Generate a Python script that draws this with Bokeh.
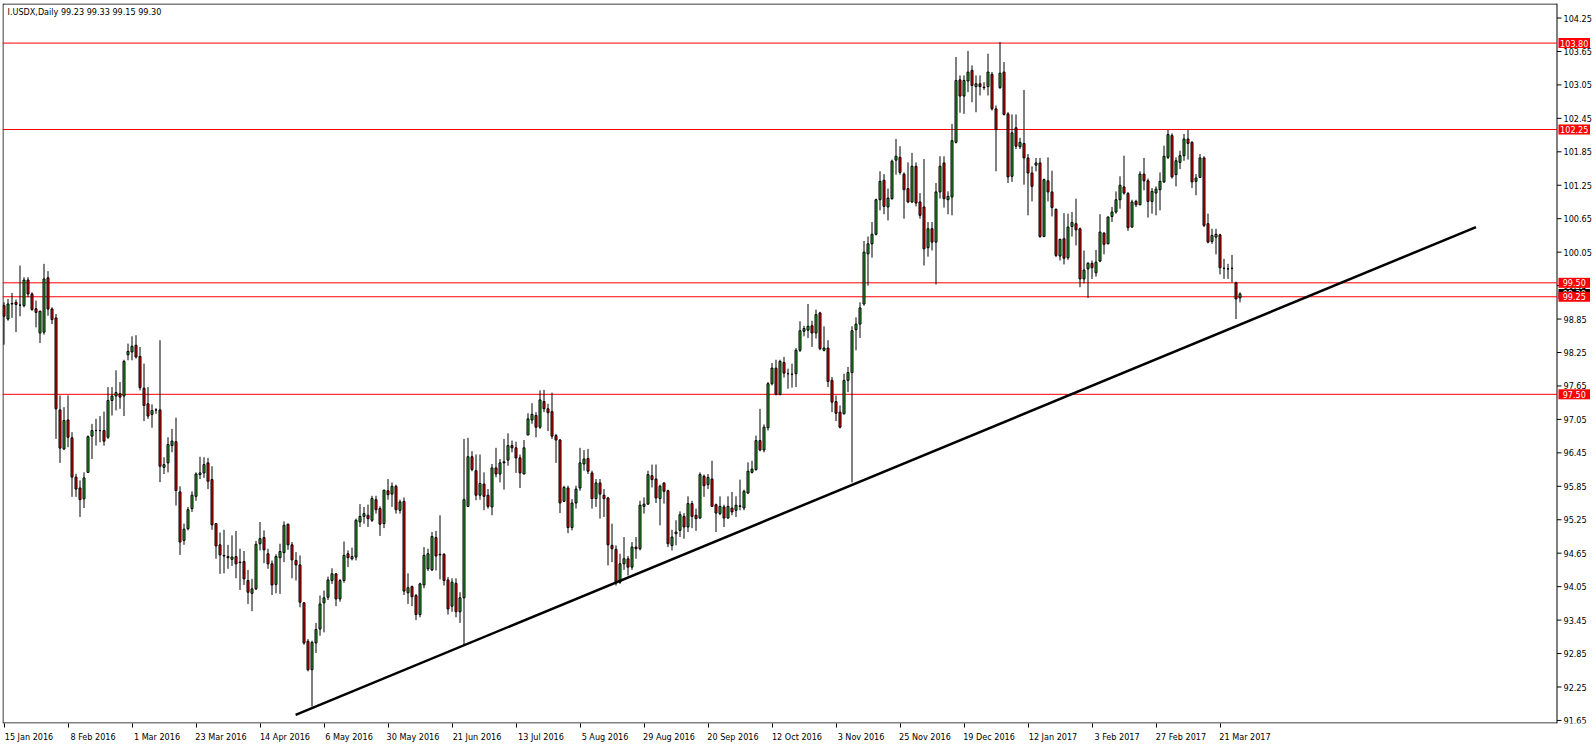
from bokeh.plotting import figure
from bokeh.models import ColumnDataSource, FixedTicker, Range1d
from bokeh.core.properties import value
from bokeh.embed import file_html
from bokeh.resources import INLINE

# ---------------- data ----------------
title_text = "I.USDX,Daily  99.23 99.33 99.15 99.30"

opens = [
    99.09, 98.85, 99.12, 99.15, 99.10, 99.09, 99.55, 99.30, 99.035, 98.60,
    98.615, 99.59, 99.03, 98.87, 97.22, 96.52, 97.04, 96.72, 96.015, 95.82,
    95.625, 96.10, 96.75, 96.85, 96.85, 96.85, 96.73, 97.39, 97.47, 97.51,
    97.47, 98.21, 98.26, 98.38, 98.18, 97.61, 97.33, 97.14, 97.22, 97.22,
    96.19, 96.27, 96.58, 96.65, 95.75, 94.88, 95.09, 95.45, 95.67, 96.06,
    96.09, 96.27, 95.97, 95.18, 94.80, 94.60, 94.59, 94.54, 94.59, 94.49,
    94.50, 94.16, 93.93, 94.01, 94.82, 94.93, 94.64, 94.46, 94.09, 94.57,
    94.66, 95.17, 94.80, 94.52, 94.44, 93.76, 93.07, 92.56, 93.04, 93.29,
    93.76, 93.86, 94.16, 94.28, 93.83, 94.16, 94.64, 94.55, 94.58, 95.21,
    95.31, 95.33, 95.24, 95.61, 95.45, 95.18, 95.77, 95.71, 95.85, 95.42,
    95.58, 93.94, 94.05, 93.89, 93.55, 94.08, 94.37, 94.35, 94.93, 94.63,
    94.63, 94.17, 93.70, 94.11, 93.60, 93.85, 95.49, 96.38, 96.13, 95.69,
    95.89, 95.69, 95.48, 96.18, 96.07, 96.27, 96.32, 96.58, 96.54, 96.36,
    96.07, 96.77, 97.04, 97.12, 96.91, 97.37, 97.24, 97.19, 96.76, 96.68,
    95.58, 95.82, 95.11, 95.55, 95.82, 96.25, 96.35, 96.09, 95.63, 95.91,
    95.69, 95.64, 94.79, 94.72, 94.13, 94.46, 94.55, 94.40, 94.76, 94.73,
    95.49, 95.53, 96.04, 95.98, 95.63, 95.91, 95.77, 94.79, 95.00, 95.06,
    95.31, 95.12, 95.54, 95.33, 95.28, 96.03, 95.88, 95.98, 95.52, 95.36,
    95.48, 95.28, 95.46, 95.42, 95.49, 95.46, 95.73, 96.10, 96.15, 96.67,
    96.50, 96.90, 97.69, 97.97, 97.50, 98.07, 97.87, 97.86, 97.87, 98.29,
    98.63, 98.65, 98.73, 98.60, 98.96, 98.29, 98.33, 97.75, 97.37, 97.18,
    97.15, 97.75, 97.89, 98.66, 98.76, 99.12, 100.02, 100.20, 100.37, 100.99,
    101.34, 100.86, 101.01, 101.70, 101.75, 101.45, 101.19, 100.95, 101.59, 100.95,
    100.86, 100.13, 100.47, 100.23, 101.13, 101.65, 100.99, 101.04, 102.02, 103.14,
    102.85, 103.12, 103.31, 103.02, 103.07, 103.00, 103.02, 103.24, 102.62, 103.00,
    103.28, 102.53, 101.41, 102.28, 101.94, 102.00, 101.74, 101.47, 101.61, 101.65,
    100.33, 101.33, 101.13, 100.82, 99.98, 100.29, 99.95, 100.51, 100.56, 100.47,
    99.57, 99.75, 99.85, 99.68, 99.89, 100.39, 100.20, 100.69, 100.77, 100.99,
    101.22, 101.10, 100.50, 100.96, 100.90, 101.45, 101.33, 100.96, 101.11, 101.17,
    101.31, 101.75, 102.14, 101.44, 101.66, 101.78, 102.08, 102.02, 101.32, 101.39,
    101.74, 100.56, 100.24, 100.32, 100.36, 99.76, 99.75, 99.76, 99.50, 99.23,
]

highs = [
    99.15, 99.21, 99.32, 99.20, 99.81, 99.60, 99.60, 99.33, 99.18, 99.00,
    99.84, 99.71, 99.06, 98.94, 97.48, 97.27, 97.48, 96.82, 96.075, 95.955,
    96.10, 96.76, 96.97, 97.06, 97.11, 97.19, 97.63, 97.63, 97.93, 97.72,
    98.12, 98.41, 98.54, 98.56, 98.35, 98.05, 97.63, 97.32, 97.25, 98.47,
    96.37, 96.73, 96.88, 97.08, 95.85, 95.18, 95.48, 95.76, 96.10, 96.38,
    96.37, 96.36, 96.21, 95.19, 95.02, 95.07, 94.80, 94.97, 95.05, 94.73,
    94.69, 94.35, 94.19, 94.87, 95.21, 95.06, 94.73, 94.52, 94.63, 94.82,
    95.22, 95.18, 94.85, 94.67, 94.61, 93.77, 93.11, 93.08, 93.40, 93.89,
    93.98, 94.23, 94.38, 94.29, 94.19, 94.86, 94.70, 94.75, 95.27, 95.53,
    95.48, 95.52, 95.68, 95.68, 95.49, 95.79, 95.98, 95.92, 95.88, 95.61,
    95.65, 94.29, 94.07, 93.92, 94.12, 94.76, 94.73, 95.03, 95.05, 95.33,
    94.65, 94.22, 94.20, 94.20, 93.95, 96.70, 96.72, 96.48, 96.42, 96.42,
    96.10, 95.80, 96.25, 96.54, 96.34, 96.70, 96.80, 96.67, 96.65, 96.42,
    96.68, 97.16, 97.34, 97.18, 97.57, 97.58, 97.33, 97.53, 96.79, 96.70,
    95.86, 95.86, 95.62, 95.86, 96.54, 96.50, 96.52, 96.13, 95.98, 95.98,
    95.80, 95.66, 95.18, 94.79, 94.64, 94.94, 94.60, 94.85, 94.94, 95.59,
    95.65, 96.13, 96.24, 96.24, 95.88, 95.92, 95.79, 95.07, 95.24, 95.40,
    95.37, 95.67, 95.59, 95.45, 96.10, 96.06, 96.07, 96.31, 95.54, 95.67,
    95.52, 95.67, 95.75, 95.67, 95.97, 95.79, 96.28, 96.31, 96.76, 97.24,
    96.96, 97.72, 98.06, 98.12, 98.12, 98.17, 97.96, 98.05, 98.33, 98.81,
    98.73, 99.12, 98.82, 99.02, 98.98, 98.72, 98.47, 97.81, 97.48, 97.30,
    97.87, 97.99, 98.72, 98.88, 99.15, 100.25, 100.33, 100.59, 101.01, 101.50,
    101.45, 101.19, 101.71, 102.08, 101.95, 101.48, 101.66, 101.83, 101.66, 101.11,
    101.72, 100.59, 100.59, 101.29, 101.77, 101.77, 101.14, 102.35, 103.55, 103.22,
    103.22, 103.66, 103.40, 103.22, 103.22, 103.10, 103.61, 103.28, 102.68, 103.82,
    103.46, 102.56, 102.52, 102.52, 102.10, 102.96, 101.81, 101.59, 101.74, 101.74,
    101.37, 101.75, 101.51, 100.83, 100.29, 100.75, 100.74, 100.77, 101.01, 100.49,
    100.08, 99.87, 99.90, 100.09, 100.73, 100.41, 100.69, 100.86, 101.14, 101.41,
    101.78, 101.13, 100.99, 100.99, 101.50, 101.74, 101.37, 101.20, 101.23, 101.48,
    101.96, 102.24, 102.18, 101.75, 101.87, 102.17, 102.24, 102.04, 101.45, 101.81,
    101.77, 100.74, 100.47, 100.47, 100.38, 99.93, 99.84, 100.00, 99.52, 99.33,
]

lows = [
    98.39, 98.82, 98.87, 98.615, 98.90, 99.06, 99.24, 99.00, 98.70, 98.42,
    98.57, 98.91, 98.76, 96.70, 96.27, 96.50, 96.55, 95.66, 95.66, 95.30,
    95.46, 96.09, 96.34, 96.58, 96.64, 96.58, 96.70, 97.12, 97.21, 97.24,
    97.11, 98.11, 98.11, 98.14, 97.57, 97.02, 97.06, 96.90, 97.15, 95.925,
    96.07, 96.10, 96.46, 95.505, 94.62, 94.80, 95.06, 95.39, 95.59, 95.98,
    96.00, 95.80, 95.07, 94.55, 94.28, 94.29, 94.37, 94.42, 94.20, 93.99,
    94.08, 93.74, 93.61, 93.99, 94.70, 94.47, 94.37, 93.90, 93.93, 93.92,
    94.49, 94.71, 94.20, 94.16, 93.68, 93.01, 92.53, 91.90, 92.86, 93.17,
    93.23, 93.81, 94.10, 93.70, 93.78, 94.12, 94.40, 94.52, 94.52, 95.12,
    95.18, 95.12, 95.21, 95.36, 94.96, 95.10, 95.61, 95.48, 95.36, 95.36,
    93.90, 93.74, 93.70, 93.45, 93.50, 94.02, 94.33, 94.33, 94.34, 94.18,
    94.07, 93.55, 93.60, 93.50, 93.40, 93.00, 95.48, 96.12, 95.60, 95.61,
    95.42, 95.45, 95.33, 96.01, 95.92, 95.79, 96.22, 96.46, 96.09, 95.82,
    96.07, 96.77, 96.97, 96.73, 96.88, 97.18, 96.84, 96.70, 96.27, 95.37,
    95.57, 95.01, 95.06, 95.45, 95.77, 96.13, 96.07, 95.45, 95.48, 95.27,
    95.30, 94.43, 94.49, 94.07, 94.10, 94.35, 94.25, 94.35, 94.55, 94.70,
    95.36, 95.52, 95.83, 95.55, 95.15, 95.54, 94.76, 94.70, 94.79, 94.94,
    94.91, 95.03, 95.10, 95.05, 95.27, 95.66, 95.80, 95.48, 95.03, 95.33,
    95.12, 95.27, 95.33, 95.30, 95.42, 95.42, 95.71, 96.08, 96.13, 96.48,
    96.46, 96.85, 97.66, 97.48, 97.48, 97.80, 97.60, 97.62, 97.63, 98.26,
    98.54, 98.51, 98.35, 98.50, 98.29, 98.27, 97.63, 97.18, 97.02, 96.89,
    97.14, 97.54, 95.92, 98.29, 98.51, 99.09, 99.45, 99.95, 100.35, 100.80,
    100.73, 100.62, 100.99, 101.44, 101.44, 100.65, 100.93, 100.93, 100.87, 100.65,
    99.81, 99.97, 100.08, 99.47, 101.01, 100.85, 100.73, 100.71, 102.00, 102.55,
    102.53, 102.92, 102.74, 102.56, 102.86, 102.96, 102.86, 102.59, 101.50, 102.98,
    102.50, 101.29, 101.31, 101.90, 101.90, 101.26, 100.71, 100.96, 101.50, 100.31,
    100.32, 100.96, 100.69, 99.96, 99.90, 99.83, 99.91, 100.33, 100.17, 99.42,
    99.49, 99.23, 99.57, 99.61, 99.87, 100.01, 100.19, 100.59, 100.74, 100.83,
    101.08, 100.43, 100.49, 100.86, 100.89, 101.16, 100.67, 100.74, 100.71, 100.80,
    101.29, 101.72, 101.37, 101.23, 101.54, 101.69, 101.71, 101.20, 101.07, 101.38,
    100.50, 100.21, 100.20, 100.01, 99.65, 99.57, 99.57, 99.51, 98.85, 99.15,
]

closes = [
    98.90, 99.12, 99.13, 99.11, 99.10, 99.55, 99.30, 99.02, 98.97, 98.99,
    99.57, 99.03, 98.84, 97.24, 96.535, 97.03, 96.73, 96.015, 95.80, 95.61,
    96.00, 96.74, 96.85, 96.85, 96.85, 96.66, 97.39, 97.47, 97.53, 97.45,
    98.09, 98.27, 98.36, 98.17, 97.62, 97.30, 97.11, 97.21, 97.22, 96.21,
    96.24, 96.60, 96.66, 95.775, 94.85, 95.08, 95.43, 95.69, 96.07, 96.09,
    96.24, 95.94, 95.16, 94.78, 94.62, 94.61, 94.57, 94.58, 94.46, 94.48,
    94.19, 93.95, 94.01, 94.81, 94.91, 94.71, 94.46, 94.08, 94.59, 94.68,
    95.15, 94.80, 94.53, 94.44, 93.77, 93.04, 92.56, 93.05, 93.28, 93.74,
    93.85, 94.17, 94.28, 93.83, 94.16, 94.61, 94.57, 94.59, 95.24, 95.31,
    95.36, 95.27, 95.63, 95.43, 95.17, 95.78, 95.70, 95.85, 95.43, 95.57,
    93.97, 94.03, 93.87, 93.55, 94.10, 94.61, 94.64, 94.95, 94.60, 94.62,
    94.16, 93.65, 94.13, 93.60, 93.85, 95.61, 96.38, 96.15, 95.69, 95.90,
    95.67, 95.49, 96.18, 96.07, 96.27, 96.29, 96.58, 96.54, 96.36, 96.09,
    96.54, 97.06, 97.14, 96.91, 97.40, 97.24, 97.17, 96.75, 96.68, 95.55,
    95.83, 95.11, 95.55, 95.80, 96.27, 96.34, 96.12, 95.63, 95.91, 95.71,
    95.63, 94.80, 94.73, 94.13, 94.46, 94.55, 94.40, 94.76, 94.73, 95.51,
    95.53, 96.06, 95.97, 95.64, 95.85, 95.76, 94.82, 94.94, 95.03, 95.34,
    95.12, 95.54, 95.31, 95.27, 96.06, 95.86, 96.01, 95.49, 95.37, 95.49,
    95.28, 95.49, 95.39, 95.51, 95.50, 95.76, 96.12, 96.16, 96.67, 96.50,
    96.91, 97.69, 97.97, 97.50, 98.09, 97.88, 97.87, 97.86, 98.29, 98.64,
    98.68, 98.72, 98.60, 98.93, 98.32, 98.33, 97.73, 97.36, 97.16, 96.91,
    97.75, 97.89, 98.64, 98.76, 99.05, 100.05, 100.20, 100.37, 100.99, 101.32,
    100.87, 101.02, 101.68, 101.77, 101.48, 101.17, 100.95, 101.59, 100.93, 100.71,
    100.11, 100.47, 100.23, 101.13, 101.59, 101.01, 101.05, 102.05, 103.13, 102.85,
    103.13, 103.28, 103.04, 103.07, 103.02, 103.01, 103.28, 102.62, 102.25, 103.26,
    102.52, 101.40, 102.19, 101.95, 102.02, 101.74, 101.47, 101.23, 101.65, 100.33,
    101.35, 101.13, 100.85, 99.99, 100.28, 99.94, 100.50, 100.58, 100.45, 99.57,
    99.73, 99.85, 99.77, 99.87, 100.41, 100.19, 100.68, 100.77, 100.99, 101.25,
    101.11, 100.49, 100.95, 100.90, 101.45, 101.33, 100.96, 101.14, 101.18, 101.32,
    101.77, 102.16, 101.40, 101.69, 101.78, 102.08, 102.00, 101.31, 101.38, 101.74,
    100.53, 100.23, 100.35, 100.37, 99.77, 99.76, 99.75, 99.76, 99.21, 99.30,
]

# date labels, one every 16 bars starting at bar 0
date_labels = ["15 Jan 2016", "8 Feb 2016", "1 Mar 2016", "23 Mar 2016", "14 Apr 2016",
               "6 May 2016", "30 May 2016", "21 Jun 2016", "13 Jul 2016", "5 Aug 2016",
               "29 Aug 2016", "20 Sep 2016", "12 Oct 2016", "3 Nov 2016", "25 Nov 2016",
               "19 Dec 2016", "12 Jan 2017", "3 Feb 2017", "27 Feb 2017", "21 Mar 2017"]
bars_per_label = 16

# price-axis ticks and their labels
price_ticks = [91.65, 92.25, 92.85, 93.45, 94.05, 94.65, 95.25, 95.85, 96.45, 97.05, 97.65,
               98.25, 98.85, 99.45, 100.05, 100.65, 101.25, 101.85, 102.45, 103.05, 103.65, 104.25]
price_tick_labels = ["%.2f" % t for t in price_ticks]

# horizontal levels
levels = [103.80, 102.25, 99.50, 99.25, 97.50]
level_texts = ["103.80", "102.25", "99.50", "99.25", "97.50"]
last_price = 99.30
last_price_text = "99.30"

# trend line (bar index, price)
trend_bars = [72.9, 368.0]
trend_prices = [91.75, 100.50]

# ---------------- layout helpers (pixel geometry of the MT4 window) ----------------
BAR_PX = 4.0          # pixels per bar
BAR0_PX = 3.5         # x pixel of bar 0
PRICE_PX = 55.75      # pixels per price unit
REF_PRICE, REF_PY = 104.25, 17.5

def px_to_bar(px):
    return (px - BAR0_PX) / BAR_PX

def py_to_price(py):
    return REF_PRICE - (py - REF_PY) / PRICE_PX

FRAME_L, FRAME_T, FRAME_R, FRAME_B = 2, 3, 1596, 723
AXIS_X = 1556.5       # vertical price-axis line

FONT = "DejaVu Sans Condensed"
FS = "9px"
GREEN = "#2fb02f"
RED = "#ff0000"

n = len(opens)
idx = list(range(n))
colors = [GREEN if c >= o else RED for o, c in zip(opens, closes)]
tops = [max(o, c) for o, c in zip(opens, closes)]
bottoms = [min(o, c) for o, c in zip(opens, closes)]
src = ColumnDataSource(dict(x=idx, o=opens, h=highs, l=lows, c=closes,
                            top=tops, bottom=bottoms, color=colors))

x0, x1 = px_to_bar(FRAME_L), px_to_bar(FRAME_R)
y0, y1 = py_to_price(FRAME_B), py_to_price(FRAME_T)

p = figure(frame_width=FRAME_R - FRAME_L, frame_height=FRAME_B - FRAME_T,
           output_backend="svg", toolbar_location=None, title=None,
           y_axis_location=None,
           x_range=Range1d(x0, x1), y_range=Range1d(y0, y1),
           min_border_left=FRAME_L, min_border_top=FRAME_T, min_border_right=0, min_border_bottom=2)
p.background_fill_color = "white"
p.border_fill_color = "white"
p.outline_line_color = None
p.xgrid.grid_line_color = None
p.ygrid.grid_line_color = None

# x axis: tick marks at label bars (minor ticks), labels shifted right so they start at the tick
tick_bars = [k * bars_per_label for k in range(len(date_labels))]
label_shift = 6.25
label_pos = [t + label_shift for t in tick_bars]
xa = p.xaxis[0]
xa.ticker = FixedTicker(ticks=label_pos, minor_ticks=tick_bars)
xa.major_label_overrides = {pos: lab for pos, lab in zip(label_pos, date_labels)}
xa.major_tick_out = 0
xa.major_tick_in = 0
xa.minor_tick_out = 4
xa.minor_tick_in = 0
xa.minor_tick_line_color = "black"
xa.axis_line_color = None
xa.major_label_standoff = 4
xa.major_label_text_font = FONT
xa.major_label_text_font_size = FS
xa.major_label_text_color = "black"

ax_bar = px_to_bar(AXIS_X)

# window frame (left, top, bottom) and price-axis line
p.segment(x0=[px_to_bar(2.5), px_to_bar(2.5), px_to_bar(2.5), ax_bar],
          y0=[y0, py_to_price(3.5), py_to_price(722.5), y0],
          x1=[px_to_bar(2.5), ax_bar, ax_bar, ax_bar],
          y1=[y1, py_to_price(3.5), py_to_price(722.5), y1],
          line_color="black", line_width=1)

# horizontal level lines
p.segment(x0=[x0] * len(levels), y0=levels, x1=[ax_bar] * len(levels), y1=levels,
          line_color=RED, line_width=1)

# candles
p.segment(x0="x", y0="l", x1="x", y1="h", source=src, line_color="black", line_width=1)
p.vbar(x="x", width=0.5, top="top", bottom="bottom", source=src,
       fill_color="color", line_color="black", line_width=1)

# trend line
p.line(trend_bars, trend_prices, line_color="black", line_width=2.5)

# price axis ticks and labels
p.segment(x0=[ax_bar] * len(price_ticks), y0=price_ticks,
          x1=[px_to_bar(1561)] * len(price_ticks), y1=price_ticks,
          line_color="black", line_width=1)
p.text(x=[px_to_bar(1563)] * len(price_ticks), y=price_ticks, text=price_tick_labels,
       text_font=value(FONT), text_font_size=value(FS), text_color="black",
       text_align="left", text_baseline="middle")

# price tags: current price (black, drawn first so the level tags cover it) then the level tags
tag_l, tag_r = px_to_bar(1558), px_to_bar(1589.5)
tag_half = 5.0 / PRICE_PX
tag_mid = (tag_l + tag_r) / 2
p.quad(left=[tag_l], right=[tag_r], top=[last_price + tag_half], bottom=[last_price - tag_half],
       fill_color="black", line_color=None)
p.text(x=[tag_mid], y=[last_price], text=[last_price_text],
       text_font=value(FONT), text_font_size=value(FS), text_color="white",
       text_align="center", text_baseline="middle")
p.quad(left=[tag_l] * len(levels), right=[tag_r] * len(levels),
       top=[v + tag_half for v in levels], bottom=[v - tag_half for v in levels],
       fill_color=RED, line_color=None)
p.text(x=[tag_mid] * len(levels), y=levels, text=level_texts,
       text_font=value(FONT), text_font_size=value(FS), text_color="white",
       text_align="center", text_baseline="middle")

# chart caption at top-left
p.text(x=[px_to_bar(7)], y=[py_to_price(11)], text=[title_text],
       text_font=value(FONT), text_font_size=value(FS), text_color="black",
       text_align="left", text_baseline="middle")

open("out.html", "w").write(file_html(p, INLINE))
